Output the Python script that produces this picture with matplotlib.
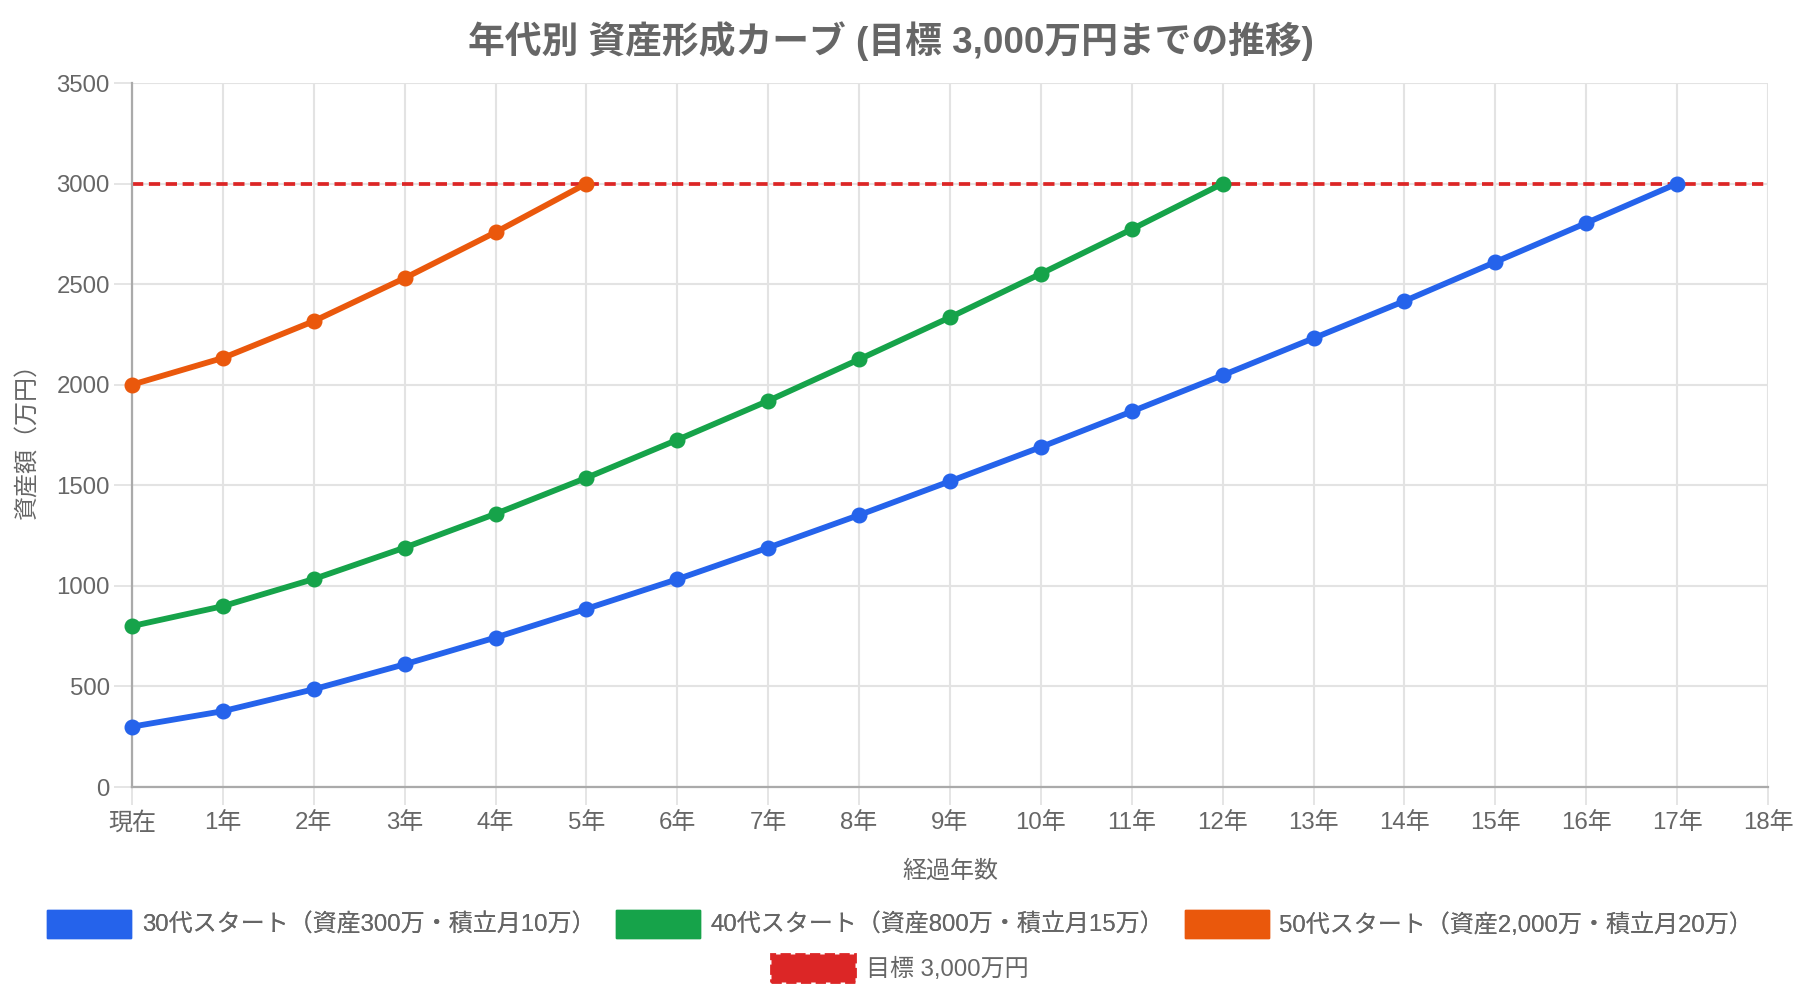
import matplotlib
matplotlib.use("Agg")
import matplotlib.pyplot as plt
from matplotlib.patches import Patch
import numpy as np

plt.rcParams['font.family'] = ['Liberation Sans', 'Noto Sans CJK JP', 'DejaVu Sans']

# Data (万円)
years = ["現在", "1年", "2年", "3年", "4年", "5年", "6年", "7年", "8年", "9年",
         "10年", "11年", "12年", "13年", "14年", "15年", "16年", "17年", "18年"]
start_30s = [300, 377, 486, 610, 743, 886, 1033, 1190, 1352, 1520,
             1690, 1867, 2047, 2231, 2416, 2610, 2804, 3000]
start_40s = [800, 899, 1034, 1190, 1358, 1537, 1726, 1920, 2126, 2335,
             2552, 2773, 3000]
start_50s = [2000, 2133, 2316, 2530, 2758, 3000]
target = 3000

labels = ["30代スタート（資産300万・積立月10万）",
          "40代スタート（資産800万・積立月15万）",
          "50代スタート（資産2,000万・積立月20万）"]
target_label = "目標 3,000万円"

colors = ["#2563EB", "#16A34A", "#EA580C"]
red = "#DC2626"
text_gray = "#666666"

fig = plt.figure(figsize=(18, 10), dpi=100)
ax = fig.add_axes([132 / 1800, 1 - 787 / 1000, 1636 / 1800, 704 / 1000])

x_all = np.arange(len(years))

# target line
ax.plot([0, len(years) - 1], [target, target], color=red, lw=2.7,
        linestyle=(0, (3.0, 1.5)), zorder=2)

for vals, c in zip([start_50s, start_40s, start_30s], colors[::-1]):
    xs = x_all[:len(vals)]
    ax.plot(xs, vals, color=c, lw=4.2, marker='o', markersize=10.5,
            markeredgecolor=c, markerfacecolor=c, zorder=3, clip_on=False,
            solid_capstyle='round', solid_joinstyle='round')

ax.set_xlim(0, len(years) - 1)
ax.set_ylim(0, 3500)
ax.set_xticks(x_all)
ax.set_xticklabels(years)
ax.set_yticks(np.arange(0, 3501, 500))

ax.grid(True, color="#e3e3e3", lw=1.5)
ax.set_axisbelow(True)
for side in ["top", "right"]:
    ax.spines[side].set_visible(False)
for side in ["left", "bottom"]:
    ax.spines[side].set_color("#aaaaaa")
    ax.spines[side].set_linewidth(1.6)

ax.tick_params(axis='both', length=13, width=1.3, color="#e3e3e3",
               labelsize=17.3, labelcolor=text_gray, pad=3)
ax.tick_params(axis='x', pad=5)

ax.set_xlabel("経過年数", fontsize=17.3, color=text_gray, labelpad=18)
ax.set_ylabel("資産額（万円）", fontsize=17.3, color=text_gray, labelpad=12)

fig.text(0.495, 1 - 41 / 1000, "年代別 資産形成カーブ (目標 3,000万円までの推移)",
         ha='center', va='center', fontsize=26.5, fontweight='bold', color=text_gray)

handles = [Patch(facecolor=c, edgecolor=c) for c in colors]
leg1 = fig.legend(handles, labels, loc='center', bbox_to_anchor=(0.5, 1 - 924 / 1000),
                  ncol=3, frameon=False, fontsize=17.3, handlelength=3.5,
                  handleheight=1.4, handletextpad=0.45, columnspacing=0.85,
                  labelcolor=text_gray)
fig.add_artist(leg1)
h_target = Patch(facecolor=red, edgecolor=red, linestyle='--', linewidth=2)
fig.legend([h_target], [target_label], loc='center',
           bbox_to_anchor=(0.5, 1 - 968 / 1000), frameon=False, fontsize=17.3,
           handlelength=3.5, handleheight=1.4, handletextpad=0.45,
           labelcolor=text_gray)

fig.savefig("out.png", dpi=100, facecolor="white")
